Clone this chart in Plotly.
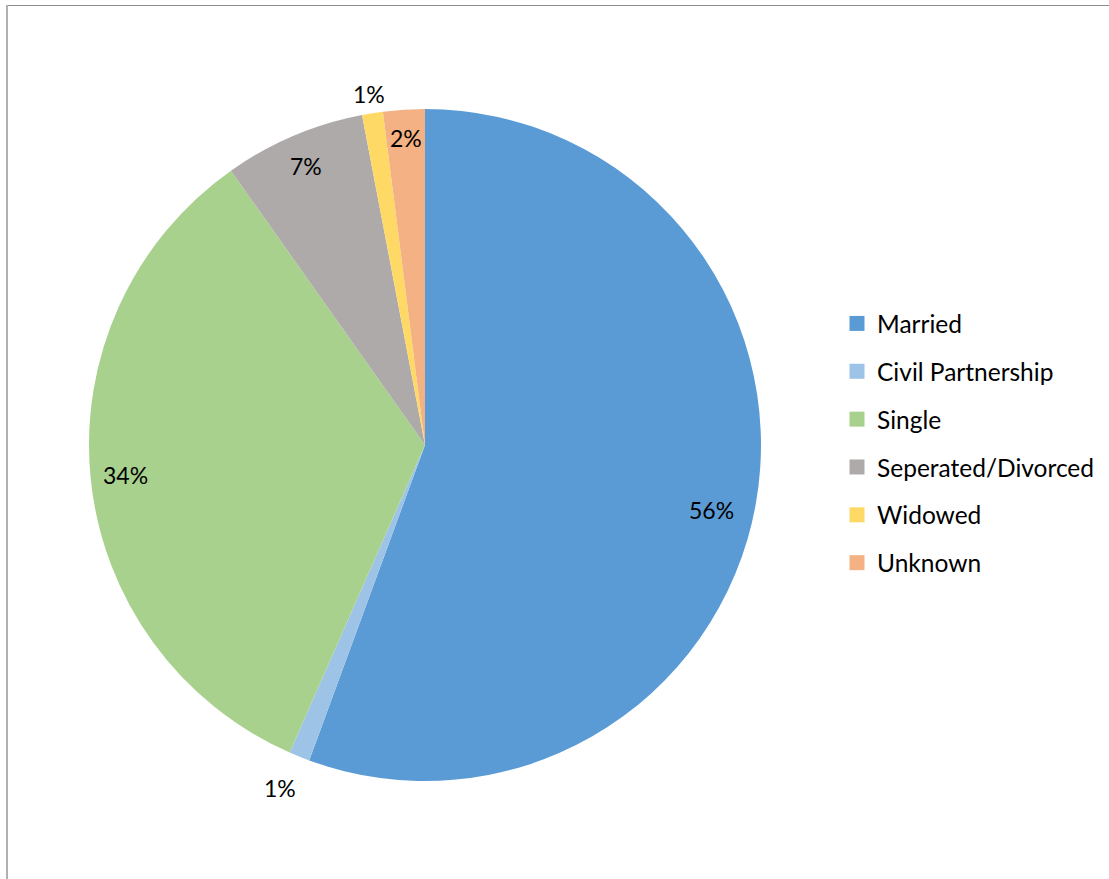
import math
import plotly.graph_objects as go

categories = ["Married", "Civil Partnership", "Single", "Seperated/Divorced", "Widowed", "Unknown"]
values = [55.6, 1.0, 33.6, 6.8, 1.0, 2.0]
colors = ["#5B9BD5", "#9DC3E6", "#A9D18E", "#AEAAAA", "#FFD966", "#F4B183"]

# label placement style (radius fraction, angular nudge in degrees)
label_radius = [0.875, 1.108, 0.896, 0.903, 1.057, 0.915]
label_nudge = [2.6, 0.9, 0.0, 0.0, 0.0, 0.0]

W, H = 1109, 879
CX, CY, R = 425, 445, 336
FONT = "Lato"
LEG_FS = 24.5
LBL_FS = 23

fig = go.Figure()
fig.add_trace(go.Pie(
    labels=categories, values=values, sort=False, direction="clockwise", rotation=0,
    marker=dict(colors=colors, line=dict(width=0)),
    textinfo="none", showlegend=False, hoverinfo="label+percent",
    domain=dict(x=[(CX - R) / W, (CX + R) / W], y=[1 - (CY + R) / H, 1 - (CY - R) / H]),
))

for cat, col in zip(categories, colors):
    fig.add_trace(go.Scatter(
        x=[None], y=[None], mode="markers", name=cat, legendgroup=cat,
        marker=dict(symbol="square", size=15, color=col),
    ))

total = sum(values)
annotations = []
cum = 0.0
for v, f, nd in zip(values, label_radius, label_nudge):
    mid = (cum + v / 2) / total * 360 + nd
    cum += v
    a = math.radians(mid)
    px = CX + f * R * math.sin(a)
    py = CY - f * R * math.cos(a)
    annotations.append(dict(
        x=px / W, y=1 - py / H, xref="paper", yref="paper",
        text=f"{round(v / total * 100)}%", showarrow=False,
        xanchor="center", yanchor="middle",
        font=dict(family=FONT, size=LBL_FS, color="#000000"),
    ))

fig.update_layout(
    width=W, height=H, margin=dict(l=0, r=0, t=0, b=0),
    paper_bgcolor="white", plot_bgcolor="white",
    xaxis=dict(visible=False), yaxis=dict(visible=False),
    legend=dict(x=837 / W, y=1 - 301 / H, xanchor="left", yanchor="top",
                font=dict(family=FONT, size=LEG_FS, color="#000000"),
                tracegroupgap=13, traceorder="grouped", bgcolor="rgba(0,0,0,0)"),
    annotations=annotations,
    shapes=[
        dict(type="line", xref="paper", yref="paper", x0=7 / W, x1=1.02, y0=1 - 5.5 / H, y1=1 - 5.5 / H,
             line=dict(color="#8c8c8c", width=1)),
        dict(type="line", xref="paper", yref="paper", x0=7 / W, x1=7 / W, y0=1 - 5 / H, y1=-0.02,
             line=dict(color="#b0b0b0", width=2)),
    ],
)

fig.write_html("out.html", config={"displayModeBar": False},
               post_script="document.body.style.margin='0';document.body.style.padding='0';")
